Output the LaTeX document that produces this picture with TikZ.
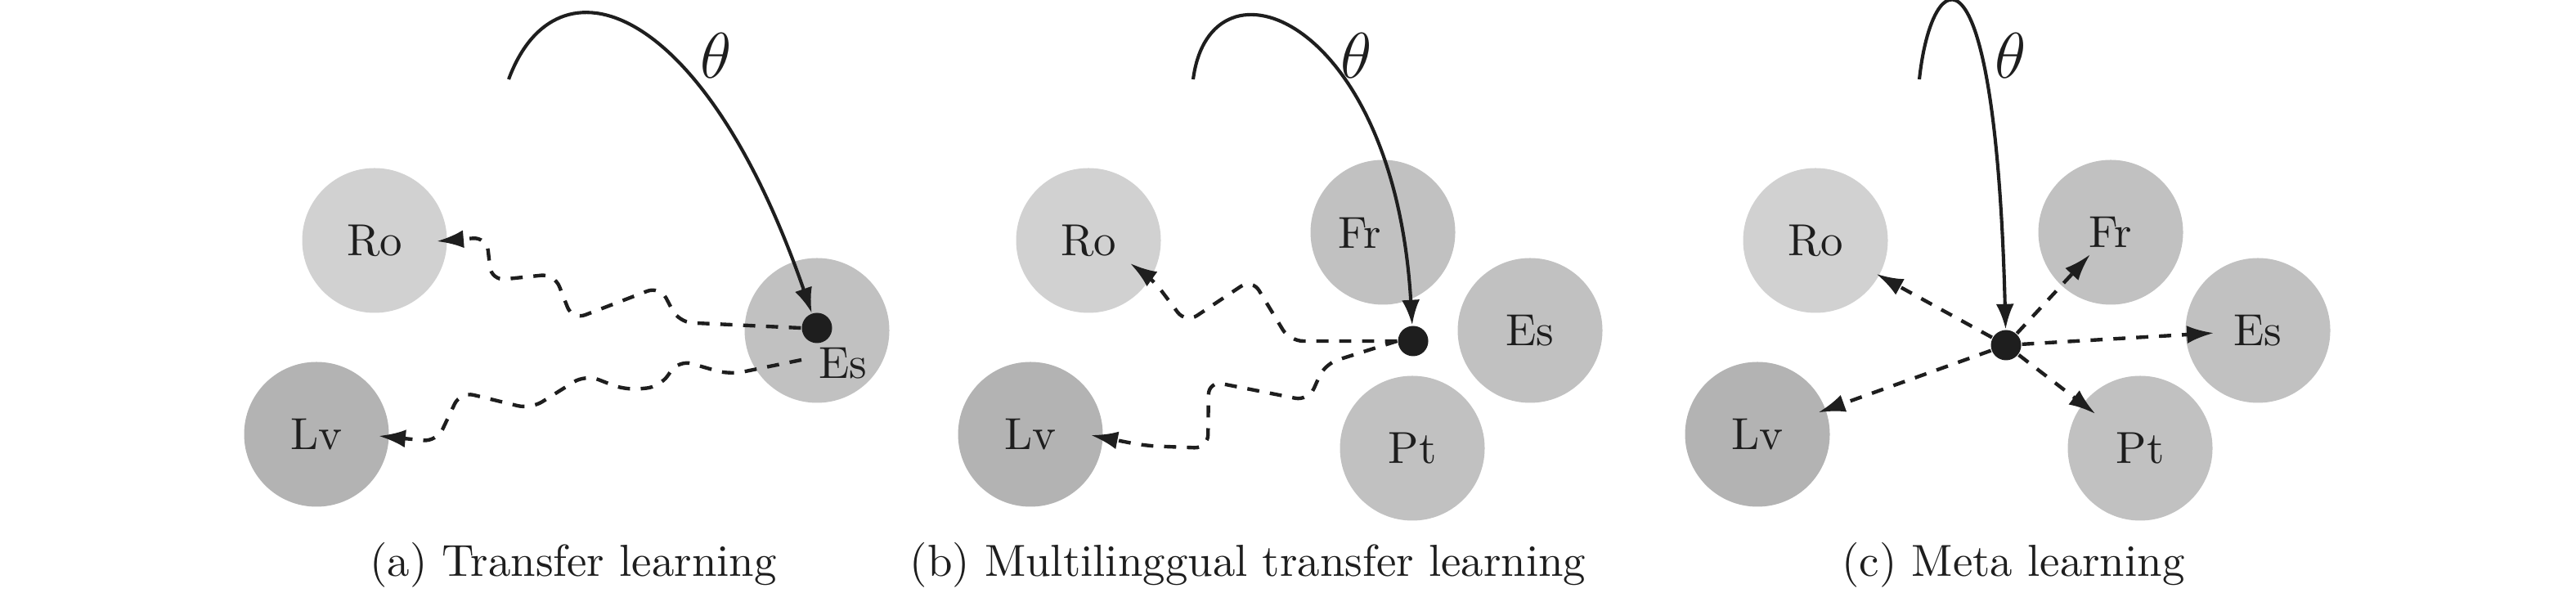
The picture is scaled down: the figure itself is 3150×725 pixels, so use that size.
\documentclass[tikz,border=0pt]{standalone}
\usetikzlibrary{arrows.meta}
\newlength\pxu
\setlength\pxu{0.00641cm}
\definecolor{lightlang}{RGB}{209,209,209}
\definecolor{midlang}{RGB}{193,193,193}
\definecolor{darklang}{RGB}{179,179,179}
\definecolor{ink}{RGB}{30,30,30}
\tikzset{
  lang/.style={circle,minimum size=177\pxu,inner sep=0pt,text=ink},
  param/.style={circle,fill=ink,minimum size=37\pxu,inner sep=0pt},
  update/.style={draw=ink,line width=0.75pt,-{Latex[length=5.6pt,width=4pt]}},
  hop/.style={draw=ink,line width=0.8pt,dash pattern=on 2.7pt off 2.4pt,-{Latex[length=6pt,width=4pt]}},
  wavy/.style={hop,rounded corners=3pt},
}
\begin{document}
\begin{tikzpicture}[x=\pxu,y=-\pxu]
\useasboundingbox (0,0) rectangle (3150,725);
% (a)
\node[lang,fill=lightlang] (roA) at (458,294) {Ro};
\node[lang,fill=darklang] (lvA) at (387,531) {Lv};
\node[lang,fill=midlang] (esA) at (999,404) {};
\node[text=ink] (esAl) at (1031,444) {Es};
\node[param] (dotA) at (999,401) {};
\coordinate (thA) at (622,97);
\draw[update] (thA) .. controls (680,-60) and (860,0) .. (dotA);
\node[font=\Large,text=ink] (thetaA) at (876,68) {$\theta$};
\draw[wavy] (dotA.west) -- (830,394) -- (807,350) -- (700,391) -- (678,335) -- (601,343) -- (595,290) -- ([shift={(76,1)}]roA.center);
\draw[wavy] ([shift={(-19,39)}]dotA.center) -- (892,458) -- (830,440) -- (807,473) -- (765,477) -- (716,458) -- (649,500) -- (563,479) -- (534,540) -- ([shift={(76,2)}]lvA.center);
\node[text=ink] (capA) at (701,691) {(a) Transfer learning};
% (b)
\node[lang,fill=lightlang] (roB) at (1331,294) {Ro};
\node[lang,fill=darklang] (lvB) at (1260,531) {Lv};
\node[lang,fill=midlang] (frB) at (1691,284) {};
\node[text=ink] (frBl) at (1663,285) {Fr};
\node[lang,fill=midlang] (esB) at (1871,404) {Es};
\node[lang,fill=midlang] (ptB) at (1727,548) {Pt};
\node[param] (dotB) at (1728,417) {};
\coordinate (thB) at (1459,97);
\draw[update] (thB) .. controls (1480,-65) and (1705,20) .. (dotB);
\node[font=\Large,text=ink] (thetaB) at (1659,68) {$\theta$};
\draw[wavy] (dotB.west) -- (1577,417) -- (1531,341) -- (1450,395) -- (1410,342) -- ([shift={(51,28)}]roB.center);
\draw[wavy] (dotB.west) -- (1620,445) -- (1600,490) -- (1478,466) -- (1477,548) -- (1400,545) -- ([shift={(74,1)}]lvB.center);
\node[text=ink] (capB) at (1526,691) {(b) Multilinggual transfer learning};
% (c)
\node[lang,fill=lightlang] (roC) at (2220,294) {Ro};
\node[lang,fill=darklang] (lvC) at (2149,531) {Lv};
\node[lang,fill=midlang] (frC) at (2581,284) {Fr};
\node[lang,fill=midlang] (esC) at (2761,404) {Es};
\node[lang,fill=midlang] (ptC) at (2617,548) {Pt};
\node[param] (dotC) at (2453,422) {};
\coordinate (thC) at (2347,97);
\draw[update] (thC) .. controls (2362,-45) and (2440,-90) .. (dotC);
\node[font=\Large,text=ink] (thetaC) at (2459,68) {$\theta$};
\foreach \tgt/\gap in {roC/85,frC/37,esC/54,ptC/69,lvC/79}
  \draw[hop,shorten >=\gap\pxu] (dotC) -- (\tgt.center);
\node[text=ink] (capC) at (2462,691) {(c) Meta learning};
\end{tikzpicture}
\end{document}
